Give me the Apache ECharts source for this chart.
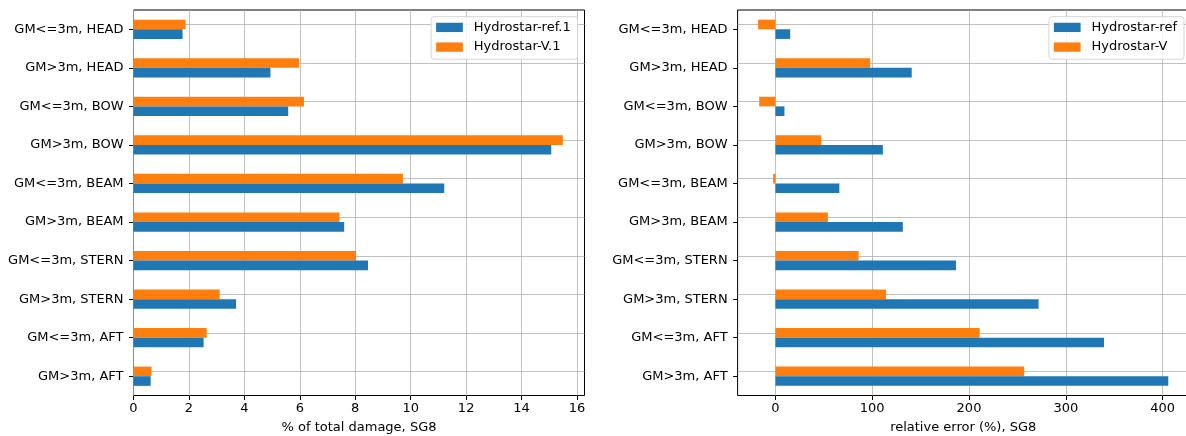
<!DOCTYPE html>
<html>
<head>
<meta charset="utf-8">
<script src="https://cdn.jsdelivr.net/npm/echarts@6/dist/echarts.min.js"></script>
<style>
html,body{margin:0;padding:0;background:#fff;}
#c{width:1186px;height:436px;}
</style>
</head>
<body>
<div id="c"></div>
<script>
// categories, bottom to top (matplotlib barh order)
const categories = ['GM>3m, AFT','GM<=3m, AFT','GM>3m, STERN','GM<=3m, STERN','GM>3m, BEAM','GM<=3m, BEAM','GM>3m, BOW','GM<=3m, BOW','GM>3m, HEAD','GM<=3m, HEAD'];
// left: % of total damage
const damageRef = [0.62, 2.53, 3.70, 8.46, 7.60, 11.21, 15.07, 5.58, 4.94, 1.77];
const damageV   = [0.65, 2.64, 3.11, 8.03, 7.43, 9.72, 15.49, 6.15, 5.97, 1.88];
// right: relative error (%)
const errRef = [405.9, 339.5, 271.9, 186.6, 131.6, 66.0, 111.0, 9.3, 140.8, 15.2];
const errV   = [257.0, 211.0, 114.3, 86.0, 54.2, -2.4, 47.4, -16.8, 97.9, -17.9];
// tick labels
const leftTicks = [0, 2, 4, 6, 8, 10, 12, 14, 16];
const rightTicks = [0, 100, 200, 300, 400];
const leftNames = ['Hydrostar-ref.1', 'Hydrostar-V.1'];
const rightNames = ['Hydrostar-ref', 'Hydrostar-V'];
const xTitles = ['% of total damage, SG8', 'relative error (%), SG8'];

const BLUE = '#1f77b4', ORANGE = '#ff7f0e', GRID = '#b0b0b0';
const FONT = 'DejaVu Sans';

function gridMarkLine(ticks) {
  return {
    silent: true, symbol: ['none','none'], z: 1, animation: false,
    label: {show: false},
    lineStyle: {color: GRID, width: 0.8, type: 'solid'},
    emphasis: {disabled: true},
    data: ticks.map(v => ({xAxis: v})).concat(categories.map(c => ({yAxis: c})))
  };
}

const chart = echarts.init(document.getElementById('c'), null, {renderer: 'canvas'});
function xAxisCfg(idx, min, max, ticks) {
  return {
    type: 'value', gridIndex: idx, min: min, max: max,
    name: xTitles[idx], nameLocation: 'middle', nameGap: 26,
    nameTextStyle: {color: '#000', fontSize: 13, fontFamily: FONT},
    axisLine: {show: false, onZero: false},
    axisTick: {show: true, length: 4.5, customValues: ticks, lineStyle: {color: '#000', width: 1}},
    axisLabel: {show: true, customValues: ticks, color: '#000', fontSize: 13, fontFamily: FONT, margin: 7},
    splitLine: {show: false}
  };
}
function yAxisCfg(idx) {
  return {
    type: 'category', gridIndex: idx, data: categories,
    axisLine: {show: false, onZero: false},
    axisTick: {show: true, alignWithLabel: true, length: 4.5, lineStyle: {color: '#000', width: 1}},
    axisLabel: {color: '#000', fontSize: 13, fontFamily: FONT, margin: 10},
    splitLine: {show: false}
  };
}
function barSeries(name, color, data, idx, withGrid, ticks) {
  const s = {
    type: 'bar', name: name, xAxisIndex: idx, yAxisIndex: idx, data: data,
    itemStyle: {color: color}, barGap: '0%', barCategoryGap: '50%',
    animation: false, z: 2, emphasis: {disabled: true}
  };
  if (withGrid) s.markLine = gridMarkLine(ticks);
  return s;
}
function legendCfg(names, right) {
  return {
    data: names, orient: 'vertical', right: right, top: 16.7,
    icon: 'rect', itemWidth: 26.7, itemHeight: 9.3, itemGap: 6.7,
    padding: [4.2, 7, 5.6, 5],
    backgroundColor: 'rgba(255,255,255,0.8)', borderColor: '#d6d6d6', borderWidth: 1, borderRadius: 3,
    textStyle: {color: '#000', fontSize: 13, lineHeight: 13, fontFamily: FONT, padding: [0, 0, 0, 6]},
    selectedMode: false
  };
}

chart.setOption({
  animation: false,
  backgroundColor: '#fff',
  grid: [
    {left: 133.5, width: 451, top: 10, height: 385.5, outerBoundsMode: 'none', containLabel: false, show: true, borderColor: '#000', borderWidth: 1, backgroundColor: 'transparent'},
    {left: 737.6, width: 451.2, top: 10, height: 385.5, outerBoundsMode: 'none', containLabel: false, show: true, borderColor: '#000', borderWidth: 1, backgroundColor: 'transparent'}
  ],
  xAxis: [xAxisCfg(0, 0, 16.27, leftTicks), xAxisCfg(1, -39.1, 427.1, rightTicks)],
  yAxis: [yAxisCfg(0), yAxisCfg(1)],
  legend: [legendCfg(leftNames, 608.3), legendCfg(rightNames, 2)],
  series: [
    barSeries(leftNames[1], ORANGE, damageV, 0, true, leftTicks),
    barSeries(leftNames[0], BLUE, damageRef, 0, false),
    barSeries(rightNames[1], ORANGE, errV, 1, true, rightTicks),
    barSeries(rightNames[0], BLUE, errRef, 1, false)
  ]
});
</script>
</body>
</html>
